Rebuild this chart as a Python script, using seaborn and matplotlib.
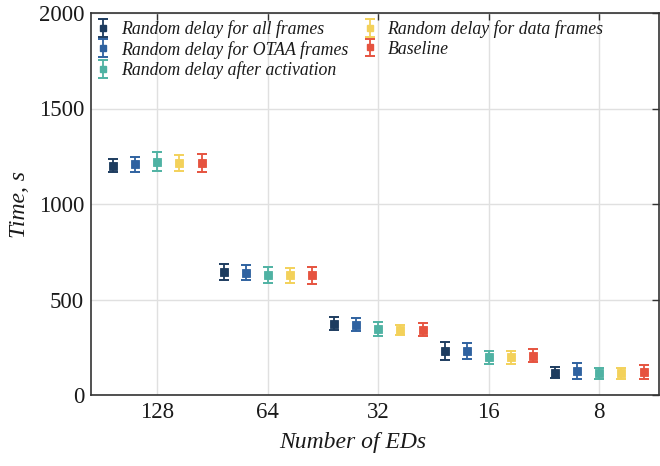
import numpy as np
import pandas as pd
import seaborn as sns
import matplotlib.pyplot as plt

categories = ["128", "64", "32", "16", "8"]
series = ["Random delay for all frames", "Random delay for OTAA frames",
          "Random delay after activation", "Random delay for data frames", "Baseline"]
colors = ["#1d3c5f", "#2f62a0", "#4fb2a3", "#f3d15a", "#e6533f"]

mean_all = [1199, 644, 374, 231, 117]
mean_otaa = [1208, 641, 369, 230, 125]
mean_act = [1221, 630, 345, 198, 114]
mean_data = [1215, 627, 338, 198, 113]
mean_base = [1216, 626, 342, 205, 120]

err_all = [34, 40, 36, 48, 27]
err_otaa = [40, 41, 34, 44, 40]
err_act = [50, 42, 38, 34, 29]
err_data = [40, 40, 26, 34, 30]
err_base = [47, 43, 35, 34, 35]

means = [mean_all, mean_otaa, mean_act, mean_data, mean_base]
errs = [err_all, err_otaa, err_act, err_data, err_base]

rows = []
for s, m, e in zip(series, means, errs):
    for c, mv, ev in zip(categories, m, e):
        rows.append({"EDs": c, "Series": s, "Time": mv, "Err": ev})
df = pd.DataFrame(rows)

sns.set_theme(style="white")
plt.rcParams["font.family"] = ["Liberation Serif", "DejaVu Serif"]

fig = plt.figure(figsize=(6.6, 4.66), dpi=100)
ax = fig.add_axes([91/660, 1-395/466, (659-91)/660, (395-13)/466])

palette = dict(zip(series, colors))
sns.pointplot(data=df, x="EDs", y="Time", hue="Series", order=categories,
              hue_order=series, palette=palette, dodge=0.8, linestyle="none",
              errorbar=None, markers="s", markersize=5, ax=ax, legend=False)

# place error bars at the positions seaborn used for the points
point_lines = [ln for ln in ax.lines if len(ln.get_xdata()) == len(categories)]
handles = []
for ln, s, c in zip(point_lines, series, colors):
    xs = np.asarray(ln.get_xdata(), dtype=float)
    sub = df[df["Series"] == s].set_index("EDs").loc[categories]
    h = ax.errorbar(xs, sub["Time"].values, yerr=sub["Err"].values,
                    fmt="s", color=c, markersize=5, capsize=3.7, capthick=1.4,
                    elinewidth=1.3, label=s, zorder=3)
    handles.append(h)

ax.set_xlim(-0.6, 4.54)
ax.set_ylim(0, 2000)
ax.set_yticks([0, 500, 1000, 1500, 2000])
ax.grid(True, color="#e0e0e0", linewidth=1)
ax.set_axisbelow(True)
for sp in ax.spines.values():
    sp.set_color("#333333")
    sp.set_linewidth(1.2)
ax.tick_params(axis="both", direction="in", length=5, width=1, color="#333333",
               labelsize=16.5, labelcolor="#1a1a1a", top=True, right=True, pad=5)
ax.set_xlabel("Number of EDs", fontsize=17, style="italic", color="#1a1a1a")
ax.set_ylabel("Time, s", fontsize=17, style="italic", color="#1a1a1a")
ax.xaxis.set_label_coords((353-91)/568, -0.098)
ax.yaxis.set_label_coords(-0.108, 0.5)

leg = ax.legend(handles=handles, labels=series, ncol=2, loc="upper left",
                bbox_to_anchor=(0.0, 1.0),
                frameon=False, prop={"style": "italic", "size": 12.8},
                handlelength=0.6, handletextpad=0.7, labelspacing=0.15,
                columnspacing=0.9, borderaxespad=0.1, borderpad=0.3)
for t in leg.get_texts():
    t.set_color("#1a1a1a")

fig.savefig("out.png", dpi=100)
